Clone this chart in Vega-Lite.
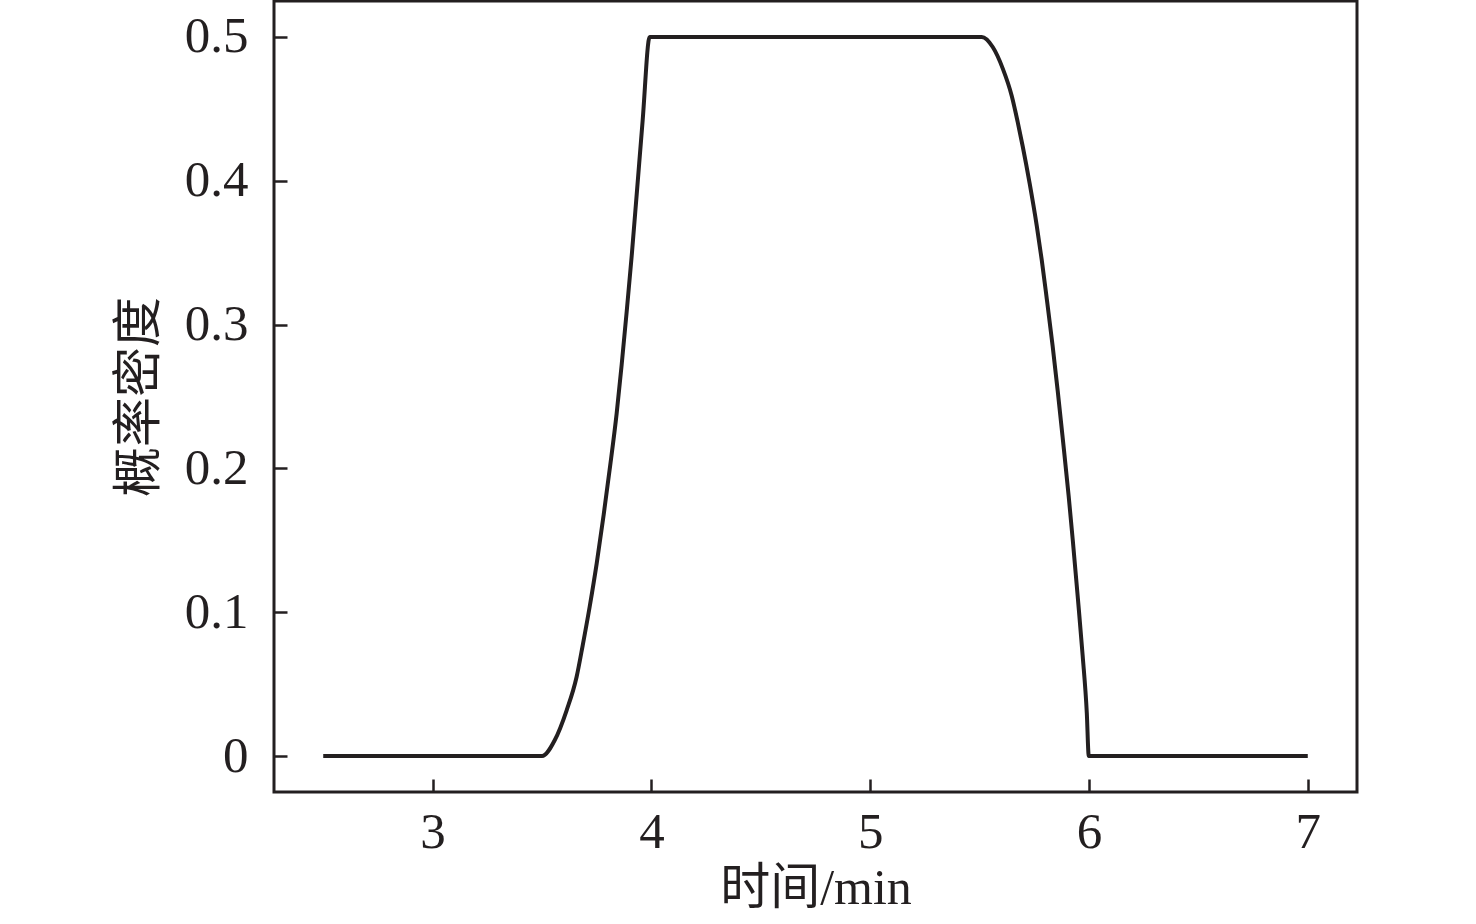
{
  "$schema": "https://vega.github.io/schema/vega-lite/v6.json",
  "autosize": "none",
  "padding": {"left": 274, "top": 1, "right": 119, "bottom": 132},
  "width": 1083,
  "height": 791,
  "background": "white",
  "config": {
    "view": {"stroke": "#231f20", "strokeWidth": 3},
    "axis": {
      "grid": false,
      "domain": false,
      "tickColor": "#231f20",
      "tickWidth": 2.5,
      "tickSize": -13,
      "labelFont": "Liberation Serif",
      "labelFontSize": 51,
      "labelColor": "#231f20",
      "titleFont": "Liberation Serif, Noto Sans CJK SC",
      "titleFontSize": 50,
      "titleFontWeight": "normal",
      "titleColor": "#231f20"
    }
  },
  "data": {
    "values": [
      {"t": 2.5, "p": 0},
      {"t": 3.5, "p": 0},
      {"t": 3.558, "p": 0.011},
      {"t": 3.613, "p": 0.032},
      {"t": 3.658, "p": 0.055},
      {"t": 3.686, "p": 0.077},
      {"t": 3.718, "p": 0.104},
      {"t": 3.75, "p": 0.134},
      {"t": 3.782, "p": 0.168},
      {"t": 3.809, "p": 0.199},
      {"t": 3.841, "p": 0.238},
      {"t": 3.864, "p": 0.272},
      {"t": 3.887, "p": 0.309},
      {"t": 3.91, "p": 0.348},
      {"t": 3.933, "p": 0.391},
      {"t": 3.96, "p": 0.442},
      {"t": 3.992, "p": 0.5},
      {"t": 4.0, "p": 0.5},
      {"t": 5.51, "p": 0.5},
      {"t": 5.56, "p": 0.493},
      {"t": 5.606, "p": 0.478},
      {"t": 5.647, "p": 0.459},
      {"t": 5.674, "p": 0.441},
      {"t": 5.697, "p": 0.424},
      {"t": 5.729, "p": 0.398},
      {"t": 5.761, "p": 0.369},
      {"t": 5.784, "p": 0.345},
      {"t": 5.807, "p": 0.318},
      {"t": 5.834, "p": 0.285},
      {"t": 5.857, "p": 0.254},
      {"t": 5.88, "p": 0.221},
      {"t": 5.907, "p": 0.181},
      {"t": 5.926, "p": 0.150},
      {"t": 5.949, "p": 0.110},
      {"t": 5.971, "p": 0.070},
      {"t": 5.99, "p": 0.030},
      {"t": 5.999, "p": 0},
      {"t": 7.0, "p": 0}
    ]
  },
  "mark": {"type": "line", "color": "#231f20", "strokeWidth": 4, "strokeJoin": "round", "interpolate": "monotone", "clip": true},
  "encoding": {
    "x": {
      "field": "t",
      "type": "quantitative",
      "scale": {"domain": [2.275, 7.225], "nice": false, "zero": false},
      "axis": {"values": [3, 4, 5, 6, 7], "title": "时间/min", "labelPadding": 28, "titlePadding": 6}
    },
    "y": {
      "field": "p",
      "type": "quantitative",
      "scale": {"domain": [-0.025, 0.525], "nice": false, "zero": false},
      "axis": {"values": [0, 0.1, 0.2, 0.3, 0.4, 0.5], "format": ".1~f", "title": "概率密度", "labelPadding": 39, "titlePadding": 20}
    }
  }
}
